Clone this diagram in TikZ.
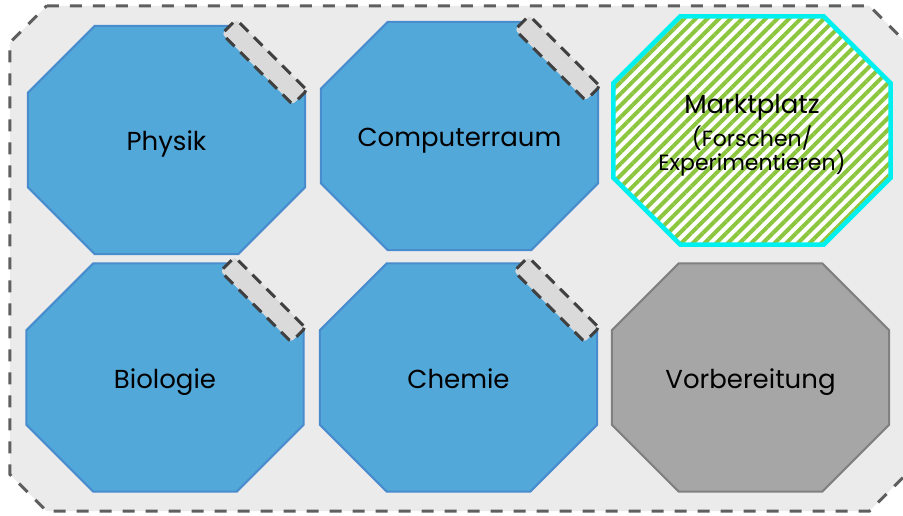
\documentclass[tikz,border=0pt]{standalone}
\usepackage{fontspec}
\setmainfont{Poppins}
\usetikzlibrary{patterns.meta,backgrounds}

\definecolor{raumblau}{RGB}{83,168,218}
\definecolor{randblau}{RGB}{72,140,205}
\definecolor{flurgrau}{RGB}{235,235,235}
\definecolor{flurrand}{RGB}{95,95,95}
\definecolor{tuergrau}{RGB}{218,218,218}
\definecolor{tuerrand}{RGB}{64,64,64}
\definecolor{vorbgrau}{RGB}{166,166,166}
\definecolor{vorbrand}{RGB}{128,128,128}
\definecolor{marktgruen}{RGB}{140,198,63}
\definecolor{marktrand}{RGB}{0,240,240}

% octagon around a node: #1 style, #2 node, #3 chamfer
\newcommand\achteck[3][]{%
    \draw[#1] ([xshift=#3]#2.north west) -- ([xshift=-#3]#2.north east)
        -- ([yshift=-#3]#2.north east) -- ([yshift=#3]#2.south east)
        -- ([xshift=-#3]#2.south east) -- ([xshift=#3]#2.south west)
        -- ([yshift=#3]#2.south west) -- ([yshift=-#3]#2.north west) -- cycle;}

\begin{document}
\begin{tikzpicture}[x=1pt,y=-1pt,
    font=\fontsize{26}{31}\selectfont,
    grundriss/.style={rectangle, minimum width=277pt, minimum height=228pt, inner sep=0pt, align=center},
    raum/.style={grundriss, text height=22pt, text depth=1pt},
    fach/.style={fill=raumblau, draw=randblau, line width=2pt},
    tuer/.style={rectangle, rounded corners=3pt, inner sep=0pt,
        minimum width=100pt, minimum height=20pt, rotate=-45,
        fill=tuergrau, draw=tuerrand, line width=3pt, dash pattern=on 12pt off 8pt}]

    \useasboundingbox (0,0) rectangle (903,516);

    % Raeume
    \node[raum] (physik) at (166.5,140) {Physik};
    \node[raum] (computer) at (459.5,136) {Computerraum};
    \node[raum] (bio) at (165,377.5) {Biologie};
    \node[raum] (chemie) at (458.5,377.5) {Chemie};
    \node[grundriss] (markt) at (752,130.5) {\rule{0pt}{29pt}Marktplatz\\[2pt]
        {\fontsize{22}{25}\selectfont (Forschen/}\\[-7pt]{\fontsize{22}{25}\selectfont Experimentieren)}};
    \node[raum] (vorb) at (750.5,377.5) {Vorbereitung};

    \begin{pgfonlayer}{background}
        % Flur
        \node[rectangle, minimum width=896pt, minimum height=505pt] (flur) at (458,258.5) {};
        \achteck[fill=flurgrau, draw=flurrand, line width=3pt, dash pattern=on 12pt off 11pt]{flur}{37pt}

        \foreach \r in {physik,computer,bio,chemie}
            {\achteck[fach]{\r}{67pt}}
        \achteck[preaction={fill=white}, pattern={Lines[angle=45,distance=8.25pt,line width=4pt]},
            pattern color=marktgruen, draw=marktrand, line width=4.5pt]{markt}{67pt}
        \achteck[fill=vorbgrau, draw=vorbrand, line width=2pt]{vorb}{67pt}
    \end{pgfonlayer}

    % Tueren
    \foreach \r in {physik,computer,bio,chemie}
        \node[tuer] (tuer-\r) at ([shift={(98,-78)}]\r.center) {};

\end{tikzpicture}
\end{document}
